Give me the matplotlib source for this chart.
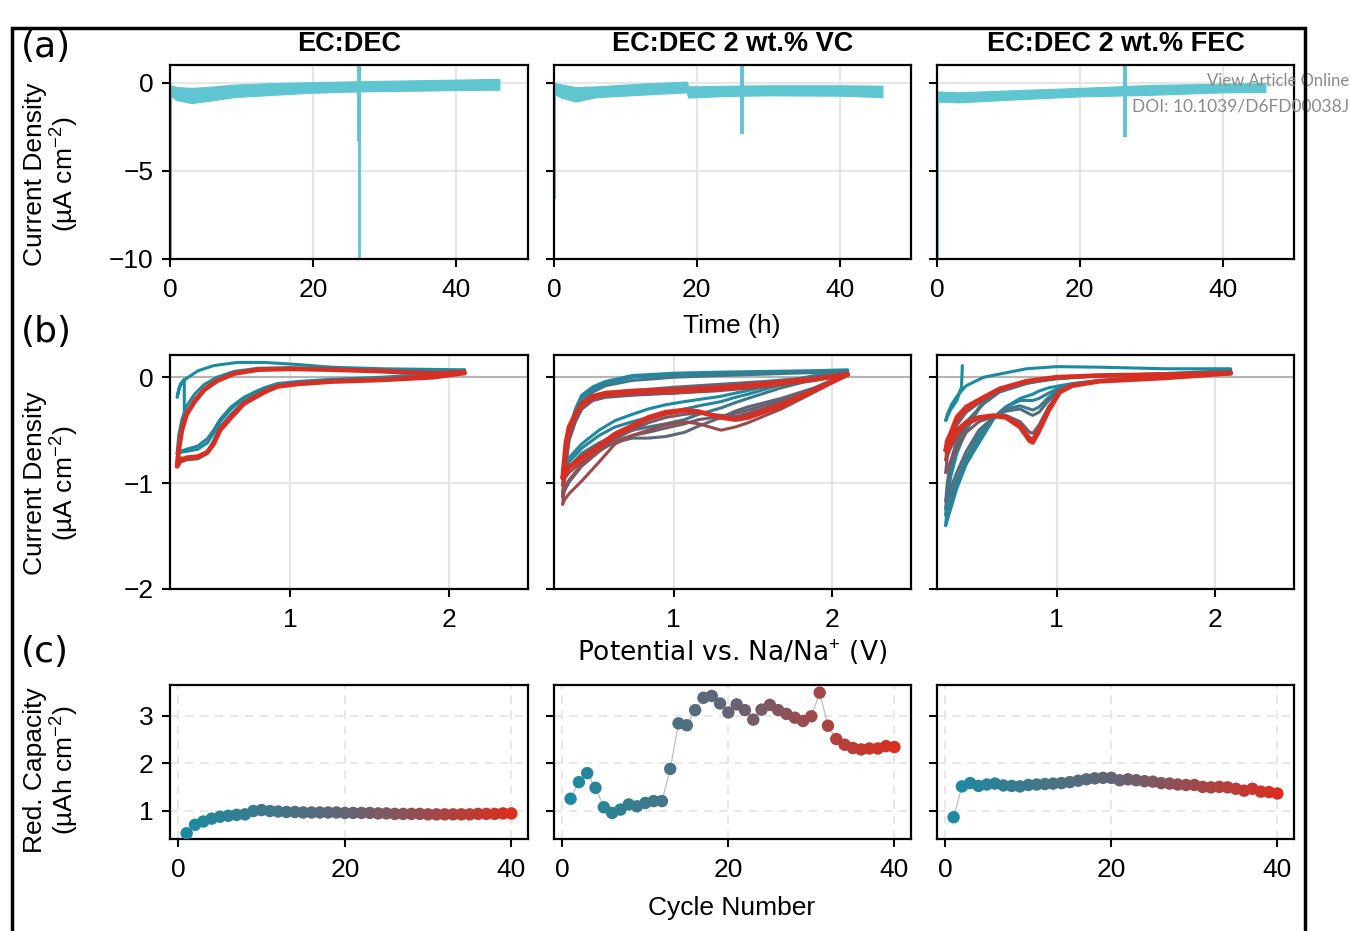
import numpy as np
import matplotlib
matplotlib.use("Agg")
import matplotlib.pyplot as plt
from matplotlib.colors import LinearSegmentedColormap
from matplotlib.patches import Rectangle

plt.rcParams['font.family'] = ['Liberation Sans', 'DejaVu Sans']
plt.rcParams['mathtext.fontset'] = 'custom'
plt.rcParams['mathtext.rm'] = 'Liberation Sans'
plt.rcParams['mathtext.it'] = 'Liberation Sans:italic'
plt.rcParams['mathtext.bf'] = 'Liberation Sans:bold'

# --------------------------------------------------
# DATA
# --------------------------------------------------
TITLES = ["EC:DEC", "EC:DEC 2 wt.% VC", "EC:DEC 2 wt.% FEC"]

# (a) current vs time: envelope of the noisy band + spikes
T_DEC = [0.1, 1, 3, 6, 9, 14, 19, 24, 29, 34, 40, 46]
UP_DEC = [-0.15, -0.25, -0.30, -0.22, -0.11, -0.03, 0.02, 0.06, 0.10, 0.13, 0.17, 0.21]
LO_DEC = [-0.75, -1.00, -1.16, -1.00, -0.82, -0.70, -0.59, -0.52, -0.48, -0.46, -0.42, -0.40]

T_VC = [0.1, 1, 3, 6, 12, 18.6, 18.8, 20, 25, 30, 35, 40, 46]
UP_VC = [-0.02, -0.10, -0.25, -0.21, -0.06, 0.06, -0.20, -0.21, -0.17, -0.15, -0.15, -0.15, -0.17]
LO_VC = [-0.65, -0.85, -1.07, -0.82, -0.69, -0.55, -0.85, -0.82, -0.75, -0.72, -0.73, -0.74, -0.82]

T_FEC = [0.1, 3, 10, 20, 30, 40, 46]
UP_FEC = [-0.50, -0.55, -0.44, -0.30, -0.13, -0.06, -0.02]
LO_FEC = [-1.07, -1.12, -0.97, -0.78, -0.69, -0.55, -0.53]

# spikes: (time, low, high)
SPIKES_DEC = [(0.05, -10.0, -0.5), (26.4, -10.0, 1.0), (26.4, -3.3, 1.0)]
SPIKES_VC = [(0.05, -6.6, -0.2), (26.4, -2.9, 1.0)]
SPIKES_FEC = [(0.05, -10.0, -0.6), (26.4, -3.1, 1.0)]

# (b) cyclic voltammograms, representative cycles
# EC:DEC
DEC_VC = [2.10, 1.90, 1.58, 1.26, 1.05, 0.92, 0.84, 0.78, 0.71, 0.63, 0.56, 0.52, 0.48, 0.42, 0.35, 0.31, 0.29]
DEC_VA = [0.29, 0.30, 0.32, 0.35, 0.40, 0.46, 0.54, 0.65, 0.80, 1.00, 1.26, 1.58, 1.90, 2.10]
DEC_HOOK_V = [0.335, 0.335, 0.31, 0.29, 0.30, 0.32, 0.35, 0.42, 0.52, 0.67, 0.84, 1.05, 1.26, 1.58, 2.10]
DEC_HOOK_I = [-0.33, -0.02, -0.07, -0.19, -0.11, -0.05, -0.01, 0.06, 0.11, 0.14, 0.14, 0.12, 0.095, 0.08, 0.07]
DEC_C1_CAT = [0.07, 0.03, 0.0, -0.02, -0.04, -0.06, -0.10, -0.14, -0.20, -0.30, -0.42, -0.53, -0.62, -0.68, -0.70, -0.71, -0.72]
DEC_C3_CAT = [0.06, 0.02, -0.01, -0.03, -0.05, -0.07, -0.10, -0.14, -0.19, -0.28, -0.40, -0.50, -0.58, -0.65, -0.68, -0.70, -0.72]
DEC_C3_AN = [-0.72, -0.55, -0.40, -0.27, -0.16, -0.07, 0.0, 0.055, 0.085, 0.09, 0.08, 0.065, 0.055, 0.06]
DEC_C15_CAT = [0.05, 0.01, -0.02, -0.035, -0.055, -0.08, -0.12, -0.17, -0.23, -0.35, -0.47, -0.60, -0.70, -0.75, -0.77, -0.76, -0.78]
DEC_C15_AN = [-0.78, -0.62, -0.46, -0.33, -0.21, -0.11, -0.03, 0.04, 0.075, 0.082, 0.075, 0.06, 0.04, 0.05]
DEC_C28_CAT = [0.045, 0.005, -0.022, -0.038, -0.06, -0.085, -0.13, -0.18, -0.24, -0.37, -0.49, -0.62, -0.72, -0.77, -0.78, -0.80, -0.82]
DEC_C28_AN = [-0.82, -0.66, -0.48, -0.34, -0.22, -0.115, -0.03, 0.04, 0.074, 0.08, 0.074, 0.058, 0.037, 0.047]
DEC_C40_CAT = [0.04, 0.0, -0.025, -0.041, -0.063, -0.088, -0.14, -0.19, -0.25, -0.38, -0.50, -0.63, -0.71, -0.75, -0.76, -0.79, -0.84]
DEC_C40_AN = [-0.84, -0.69, -0.50, -0.35, -0.23, -0.12, -0.035, 0.035, 0.072, 0.079, 0.072, 0.057, 0.035, 0.045]

# EC:DEC 2 wt.% VC
VCX_VC = [2.10, 1.89, 1.68, 1.47, 1.39, 1.30, 1.16, 1.07, 0.95, 0.84, 0.74, 0.63, 0.53, 0.42, 0.34, 0.31, 0.30]
VCX_VA = [0.30, 0.32, 0.34, 0.38, 0.42, 0.49, 0.57, 0.74, 1.00, 1.26, 1.58, 1.89, 2.10]
VCX_C1_CAT = [0.06, 0.016, -0.047, -0.126, -0.15, -0.18, -0.21, -0.23, -0.26, -0.30, -0.35, -0.41, -0.50, -0.63, -0.76, -0.83, -0.88]
VCX_C1_AN = [-0.88, -0.70, -0.50, -0.30, -0.17, -0.09, -0.04, 0.016, 0.038, 0.047, 0.055, 0.062, 0.07]
VCX_C5_CAT = [0.055, 0.0, -0.07, -0.16, -0.19, -0.23, -0.27, -0.30, -0.34, -0.38, -0.42, -0.47, -0.55, -0.67, -0.80, -0.88, -0.94]
VCX_C5_AN = [-0.94, -0.72, -0.52, -0.33, -0.20, -0.11, -0.06, 0.0, 0.025, 0.035, 0.045, 0.055, 0.06]
VCX_C10_CAT = [0.05, -0.02, -0.10, -0.20, -0.24, -0.29, -0.35, -0.40, -0.44, -0.47, -0.50, -0.55, -0.62, -0.72, -0.85, -0.95, -1.02]
VCX_C10_AN = [-1.02, -0.75, -0.55, -0.36, -0.24, -0.14, -0.08, -0.03, 0.0, 0.015, 0.03, 0.045, 0.05]
VCX_C18_CAT = [0.04, -0.10, -0.20, -0.28, -0.32, -0.38, -0.46, -0.52, -0.56, -0.575, -0.575, -0.615, -0.69, -0.82, -0.98, -1.08, -1.13]
VCX_C18_AN = [-1.13, -0.82, -0.60, -0.42, -0.30, -0.21, -0.17, -0.126, -0.095, -0.07, -0.04, 0.0, 0.04]
VCX_C22_CAT = [0.035, -0.11, -0.22, -0.31, -0.34, -0.37, -0.40, -0.44, -0.48, -0.52, -0.55, -0.60, -0.70, -0.84, -0.99, -1.07, -1.12]
VCX_C22_AN = [-1.12, -0.80, -0.58, -0.41, -0.30, -0.22, -0.19, -0.17, -0.15, -0.12, -0.08, -0.02, 0.035]
VCX_C25_CAT = [0.035, -0.12, -0.24, -0.34, -0.37, -0.36, -0.34, -0.35, -0.38, -0.43, -0.50, -0.58, -0.70, -0.83, -0.97, -1.05, -1.10]
VCX_C25_AN = [-1.10, -0.75, -0.55, -0.38, -0.27, -0.19, -0.16, -0.14, -0.13, -0.11, -0.07, -0.02, 0.03]
VCX_C30_CAT = [0.03, -0.14, -0.30, -0.43, -0.47, -0.50, -0.44, -0.42, -0.45, -0.50, -0.55, -0.63, -0.80, -0.98, -1.10, -1.16, -1.20]
VCX_C30_AN = [-1.20, -0.80, -0.55, -0.38, -0.28, -0.21, -0.18, -0.16, -0.15, -0.13, -0.09, -0.03, 0.03]
VCX_C35_CAT = [0.03, -0.11, -0.25, -0.36, -0.39, -0.38, -0.33, -0.32, -0.35, -0.40, -0.48, -0.56, -0.68, -0.80, -0.90, -0.96, -1.02]
VCX_C35_AN = [-1.02, -0.66, -0.50, -0.37, -0.27, -0.20, -0.17, -0.15, -0.14, -0.12, -0.08, -0.03, 0.025]
VCX_C40_CAT = [0.025, -0.126, -0.27, -0.38, -0.40, -0.38, -0.325, -0.31, -0.33, -0.38, -0.457, -0.536, -0.647, -0.757, -0.85, -0.90, -0.95]
VCX_C40_AN = [-0.95, -0.62, -0.47, -0.35, -0.25, -0.18, -0.15, -0.13, -0.12, -0.10, -0.063, -0.016, 0.025]

# EC:DEC 2 wt.% FEC
FEC_VC = [2.10, 1.69, 1.27, 1.10, 1.02, 0.95, 0.89, 0.85, 0.83, 0.77, 0.68, 0.60, 0.51, 0.43, 0.37, 0.33, 0.30]
FEC_VA = [0.30, 0.31, 0.33, 0.37, 0.43, 0.54, 0.64, 0.81, 1.00, 1.27, 1.69, 2.10]
FEC_HOOK_V = [0.405, 0.40, 0.37, 0.33, 0.30, 0.31, 0.34, 0.38, 0.43, 0.54, 0.64, 0.81, 1.00, 1.27, 1.69, 2.10]
FEC_HOOK_I = [0.11, -0.09, -0.22, -0.31, -0.41, -0.35, -0.25, -0.16, -0.08, 0.0, 0.03, 0.08, 0.10, 0.095, 0.08, 0.08]
FEC_C1_CAT = [0.063, 0.016, -0.03, -0.06, -0.08, -0.10, -0.13, -0.16, -0.17, -0.20, -0.28, -0.40, -0.62, -0.82, -1.05, -1.25, -1.40]
FEC_C1_AN = [-1.40, -1.20, -0.95, -0.72, -0.50, -0.22, -0.12, -0.05, -0.016, 0.015, 0.035, 0.063]
FEC_C5_CAT = [0.05, 0.01, -0.035, -0.07, -0.10, -0.15, -0.20, -0.22, -0.22, -0.22, -0.28, -0.38, -0.58, -0.80, -1.02, -1.18, -1.30]
FEC_C5_AN = [-1.30, -1.10, -0.88, -0.65, -0.45, -0.23, -0.12, -0.05, -0.01, 0.015, 0.03, 0.05]
FEC_C10_CAT = [0.052, 0.01, -0.035, -0.065, -0.11, -0.19, -0.28, -0.31, -0.30, -0.27, -0.30, -0.38, -0.54, -0.76, -0.97, -1.12, -1.24]
FEC_C10_AN = [-1.24, -1.05, -0.84, -0.62, -0.44, -0.24, -0.13, -0.055, -0.008, 0.015, 0.028, 0.052]
FEC_C15_CAT = [0.054, 0.01, -0.035, -0.063, -0.126, -0.22, -0.33, -0.36, -0.347, -0.30, -0.32, -0.38, -0.50, -0.70, -0.90, -1.05, -1.17]
FEC_C15_AN = [-1.17, -1.00, -0.80, -0.60, -0.42, -0.25, -0.14, -0.06, -0.006, 0.015, 0.025, 0.054]
FEC_C25_CAT = [0.045, 0.0, -0.036, -0.07, -0.13, -0.28, -0.45, -0.53, -0.52, -0.42, -0.36, -0.37, -0.42, -0.52, -0.68, -0.80, -0.90]
FEC_C25_AN = [-0.90, -0.75, -0.62, -0.45, -0.33, -0.21, -0.12, -0.045, -0.003, 0.015, 0.025, 0.045]
FEC_C33_CAT = [0.04, -0.003, -0.037, -0.075, -0.135, -0.30, -0.48, -0.58, -0.57, -0.45, -0.37, -0.36, -0.39, -0.45, -0.56, -0.67, -0.78]
FEC_C33_AN = [-0.78, -0.66, -0.57, -0.41, -0.30, -0.20, -0.115, -0.04, -0.002, 0.016, 0.025, 0.04]
FEC_C40_CAT = [0.038, -0.006, -0.038, -0.079, -0.14, -0.315, -0.505, -0.615, -0.60, -0.47, -0.38, -0.363, -0.38, -0.426, -0.505, -0.60, -0.69]
FEC_C40_AN = [-0.69, -0.60, -0.536, -0.38, -0.28, -0.19, -0.11, -0.038, 0.0, 0.016, 0.025, 0.038]

# (c) reduction capacity per cycle
CYCLES = list(range(1, 41))
CAP_DEC = [0.52, 0.70, 0.77, 0.83, 0.87, 0.89, 0.91, 0.92, 0.99, 1.01,
           0.99, 0.98, 0.97, 0.97, 0.96, 0.96, 0.96, 0.96, 0.96, 0.95,
           0.95, 0.95, 0.95, 0.94, 0.94, 0.93, 0.93, 0.93, 0.93, 0.92,
           0.92, 0.92, 0.92, 0.92, 0.92, 0.93, 0.93, 0.93, 0.94, 0.94]
CAP_VC = [1.25, 1.60, 1.79, 1.48, 1.07, 0.95, 1.02, 1.13, 1.09, 1.16,
          1.20, 1.20, 1.88, 2.84, 2.80, 3.12, 3.38, 3.42, 3.26, 3.07,
          3.24, 3.12, 2.92, 3.13, 3.23, 3.12, 3.04, 2.96, 2.89, 2.99,
          3.49, 2.79, 2.51, 2.39, 2.32, 2.29, 2.31, 2.31, 2.36, 2.34]
CAP_FEC = [0.86, 1.51, 1.58, 1.52, 1.55, 1.57, 1.53, 1.52, 1.51, 1.54,
           1.55, 1.56, 1.57, 1.58, 1.60, 1.63, 1.66, 1.68, 1.69, 1.69,
           1.64, 1.66, 1.64, 1.62, 1.61, 1.58, 1.57, 1.55, 1.54, 1.54,
           1.50, 1.49, 1.50, 1.49, 1.46, 1.42, 1.46, 1.40, 1.39, 1.36]

# --------------------------------------------------
# STYLE
# --------------------------------------------------
BAND_COLOR = "#5fc6d1"
CMAP = LinearSegmentedColormap.from_list("cyc", ["#1b8ba1", "#646474", "#d92e22"])
FS = 19

def cyc_color(n):
    return CMAP((n - 1) / 39)

def style_axes(ax, dashed=False):
    for s in ax.spines.values():
        s.set_linewidth(1.6)
    ax.tick_params(direction="out", length=6, width=1.5, labelsize=FS)
    ax.tick_params(axis="x", pad=8)
    ax.tick_params(axis="y", pad=6)
    if dashed:
        ax.grid(True, color="#e3e3e3", lw=1.2, ls=(0, (5, 4)))
    else:
        ax.grid(True, color="#e6e6e6", lw=1.5)
    ax.set_axisbelow(True)

# --------------------------------------------------
# FIGURE
# --------------------------------------------------
W, H = 1350, 931
fig = plt.figure(figsize=(W / 100, H / 100), dpi=100)

def px_axes(x0, x1, y0, y1):
    return fig.add_axes([x0 / W, 1 - y1 / H, (x1 - x0) / W, (y1 - y0) / H])

COLS = [(170, 528), (554, 911), (937, 1294)]
ROW_A = (65, 259)
ROW_B = (355, 589)
ROW_C = (685, 839)

# row (a)
bands = [(T_DEC, UP_DEC, LO_DEC, SPIKES_DEC),
         (T_VC, UP_VC, LO_VC, SPIKES_VC),
         (T_FEC, UP_FEC, LO_FEC, SPIKES_FEC)]
for k, (t, up, lo, spikes) in enumerate(bands):
    ax = px_axes(COLS[k][0], COLS[k][1], *ROW_A)
    style_axes(ax)
    ax.fill_between(t, lo, up, color=BAND_COLOR, lw=0.8, edgecolor=BAND_COLOR)
    for ts, lo_s, hi_s in spikes:
        lw = 2.0 if lo_s <= -9.9 and ts > 1 else 2.8
        ax.vlines(ts, lo_s, hi_s, color=BAND_COLOR, lw=lw)
    ax.set_xlim(0, 50)
    ax.set_ylim(-10, 1)
    ax.set_xticks([0, 20, 40])
    ax.set_yticks([0, -5, -10])
    if k > 0:
        ax.set_yticklabels([])
    ax.set_title(TITLES[k], fontsize=FS + 0.5, fontweight="bold", pad=10)

# row (b)
cv_sets = [
    [(1, DEC_HOOK_V, DEC_HOOK_I), (1, DEC_VC, DEC_C1_CAT), (3, DEC_VC, DEC_C3_CAT), (3, DEC_VA, DEC_C3_AN),
     (15, DEC_VC, DEC_C15_CAT), (15, DEC_VA, DEC_C15_AN), (28, DEC_VC, DEC_C28_CAT), (28, DEC_VA, DEC_C28_AN),
     (40, DEC_VC, DEC_C40_CAT), (40, DEC_VA, DEC_C40_AN)],
    [(1, VCX_VC, VCX_C1_CAT), (1, VCX_VA, VCX_C1_AN), (5, VCX_VC, VCX_C5_CAT), (5, VCX_VA, VCX_C5_AN),
     (10, VCX_VC, VCX_C10_CAT), (10, VCX_VA, VCX_C10_AN),
     (18, VCX_VC, VCX_C18_CAT), (18, VCX_VA, VCX_C18_AN), (22, VCX_VC, VCX_C22_CAT), (22, VCX_VA, VCX_C22_AN),
     (25, VCX_VC, VCX_C25_CAT), (25, VCX_VA, VCX_C25_AN), (30, VCX_VC, VCX_C30_CAT), (30, VCX_VA, VCX_C30_AN),
     (35, VCX_VC, VCX_C35_CAT), (35, VCX_VA, VCX_C35_AN), (40, VCX_VC, VCX_C40_CAT), (40, VCX_VA, VCX_C40_AN)],
    [(1, FEC_HOOK_V, FEC_HOOK_I), (1, FEC_VC, FEC_C1_CAT), (1, FEC_VA, FEC_C1_AN), (5, FEC_VC, FEC_C5_CAT),
     (5, FEC_VA, FEC_C5_AN), (10, FEC_VC, FEC_C10_CAT), (10, FEC_VA, FEC_C10_AN),
     (15, FEC_VC, FEC_C15_CAT), (15, FEC_VA, FEC_C15_AN), (25, FEC_VC, FEC_C25_CAT),
     (25, FEC_VA, FEC_C25_AN), (33, FEC_VC, FEC_C33_CAT), (33, FEC_VA, FEC_C33_AN),
     (40, FEC_VC, FEC_C40_CAT), (40, FEC_VA, FEC_C40_AN)],
]
for k, curves in enumerate(cv_sets):
    ax = px_axes(COLS[k][0], COLS[k][1], *ROW_B)
    style_axes(ax)
    ax.axhline(0, color="#b5b5b5", lw=1.5, zorder=1)
    for n, v, i in curves:
        lw = 3.4 if n == 40 else 2.2
        ax.plot(v, i, color=cyc_color(n), lw=lw, solid_capstyle="round",
                solid_joinstyle="round", zorder=2 + n / 40)
    ax.set_xlim(0.245, 2.5)
    ax.set_ylim(-2, 0.21)
    ax.set_xticks([1, 2])
    ax.set_yticks([0, -1, -2])
    if k > 0:
        ax.set_yticklabels([])

# row (c)
caps = [CAP_DEC, CAP_VC, CAP_FEC]
for k, cap in enumerate(caps):
    ax = px_axes(COLS[k][0], COLS[k][1], *ROW_C)
    style_axes(ax, dashed=True)
    ax.plot(CYCLES, cap, color="#bdbdbd", lw=0.9, zorder=2)
    ax.scatter(CYCLES, cap, c=CYCLES, cmap=CMAP, vmin=1, vmax=40, s=80,
               edgecolors="none", zorder=3)
    ax.set_xlim(-1, 42)
    ax.set_ylim(0.4, 3.65)
    ax.set_xticks([0, 20, 40])
    ax.set_yticks([1, 2, 3])
    if k > 0:
        ax.set_yticklabels([])

# --------------------------------------------------
# TEXT
# --------------------------------------------------
for lab, y in [("(a)", 47), ("(b)", 332), ("(c)", 652)]:
    fig.text(21 / W, 1 - y / H, lab, family="DejaVu Sans", fontsize=26, ha="left", va="center")

for lab, y in [("Current Density\n(µA cm$^{-2}$)", 174),
               ("Current Density\n(µA cm$^{-2}$)", 483),
               ("Red. Capacity\n(µAh cm$^{-2}$)", 770)]:
    fig.text(52 / W, 1 - y / H, lab, fontsize=FS, rotation=90, ha="center", va="center",
             multialignment="center", linespacing=1.05)

fig.text(732 / W, 1 - 326 / H, "Time (h)", fontsize=FS, ha="center", va="center")
fig.text(732 / W, 1 - 653 / H, "Potential vs. Na/Na$^{+}$ (V)", family="DejaVu Sans",
         fontsize=FS, ha="center", va="center")
fig.text(732 / W, 1 - 908 / H, "Cycle Number", fontsize=FS, ha="center", va="center")

fig.text(1349 / W, 1 - 81 / H, "View Article Online", family="Lato", fontsize=12,
         color="#8a8a8a", ha="right", va="center")
fig.text(1349 / W, 1 - 107 / H, "DOI: 10.1039/D6FD00038J", family="Lato", fontsize=12.5,
         color="#8a8a8a", ha="right", va="center")

fig.patches.append(Rectangle((12 / W, -0.02), (1305 - 12) / W, 1.005 - 14 / H,
                             transform=fig.transFigure, fill=False, lw=2.5,
                             edgecolor="black", zorder=10))

fig.savefig("out.png", dpi=100)
